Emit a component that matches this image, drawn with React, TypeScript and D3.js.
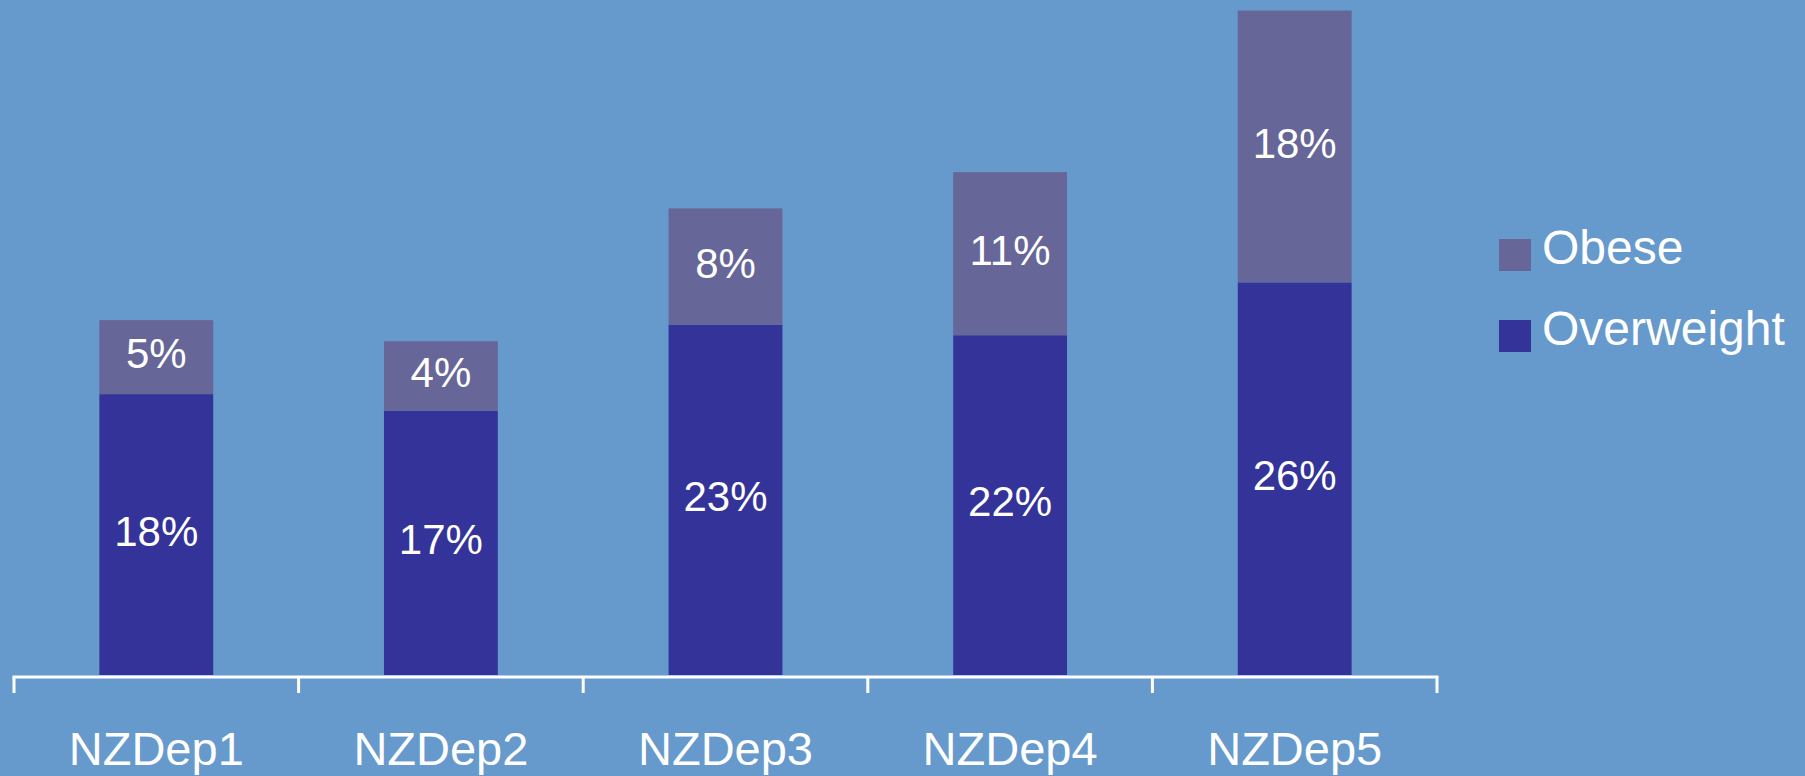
import React from "react";
import * as d3 from "d3";

const categories = ["NZDep1", "NZDep2", "NZDep3", "NZDep4", "NZDep5"];
const overweight = [18.6, 17.5, 23.2, 22.5, 26.0];
const obese = [4.9, 4.6, 7.7, 10.8, 18.0];
const overweightLabels = ["18%", "17%", "23%", "22%", "26%"];
const obeseLabels = ["5%", "4%", "8%", "11%", "18%"];
const seriesNames = ["Obese", "Overweight"];

const W = 1805;
const H = 776;
const BG = "#6699CC";
const C_OW = "#333399";
const C_OB = "#666699";
const FONT = "Liberation Sans, Arial, sans-serif";
const LBL = 42;

export default function App() {
  const x = d3
    .scaleBand<string>()
    .domain(categories)
    .range([14, 1437])
    .paddingInner(0.6)
    .paddingOuter(0.3);
  const y = d3.scaleLinear().domain([0, 44.7]).range([675, 0]);
  const step = x.step();
  const r0 = x.range()[0];
  const tickXs = d3.range(categories.length + 1).map((i) => r0 + i * step);
  const capHalf = (LBL * 0.716) / 2;

  return (
    <svg
      width={W}
      height={H}
      style={{ position: "absolute", left: 0, top: 0, display: "block" }}
    >
      <rect x={0} y={0} width={W} height={H} fill={BG} />
      {categories.map((c, i) => {
        const bx = x(c) as number;
        const bw = x.bandwidth();
        const yOw = y(overweight[i]);
        const yOb = y(overweight[i] + obese[i]);
        const cx = bx + bw / 2;
        return (
          <g key={c}>
            <rect x={bx} y={yOw} width={bw} height={y(0) - yOw} fill={C_OW} />
            <rect x={bx} y={yOb} width={bw} height={yOw - yOb} fill={C_OB} />
            <text
              x={cx}
              y={(yOw + y(0)) / 2 + capHalf - 4}
              textAnchor="middle"
              fill="#fff"
              fontFamily={FONT}
              fontSize={LBL}
            >
              {overweightLabels[i]}
            </text>
            <text
              x={cx}
              y={(yOb + yOw) / 2 + capHalf - 4}
              textAnchor="middle"
              fill="#fff"
              fontFamily={FONT}
              fontSize={LBL}
            >
              {obeseLabels[i]}
            </text>
            <text
              x={cx}
              y={765}
              textAnchor="middle"
              fill="#fff"
              fontFamily={FONT}
              fontSize={47}
            >
              {c}
            </text>
          </g>
        );
      })}
      <line
        x1={tickXs[0] - 1.5}
        x2={tickXs[tickXs.length - 1] + 1.5}
        y1={677}
        y2={677}
        stroke="#fff"
        strokeWidth={3}
      />
      {tickXs.map((tx, i) => (
        <line
          key={i}
          x1={tx}
          x2={tx}
          y1={677}
          y2={693}
          stroke="#fff"
          strokeWidth={3}
        />
      ))}
      {seriesNames.map((s, i) => (
        <g key={s}>
          <rect
            x={1499}
            y={239 + i * 81}
            width={32}
            height={32}
            fill={i === 0 ? C_OB : C_OW}
          />
          <text
            x={1542}
            y={264 + i * 81}
            fill="#fff"
            fontFamily={FONT}
            fontSize={48}
          >
            {s}
          </text>
        </g>
      ))}
    </svg>
  );
}
